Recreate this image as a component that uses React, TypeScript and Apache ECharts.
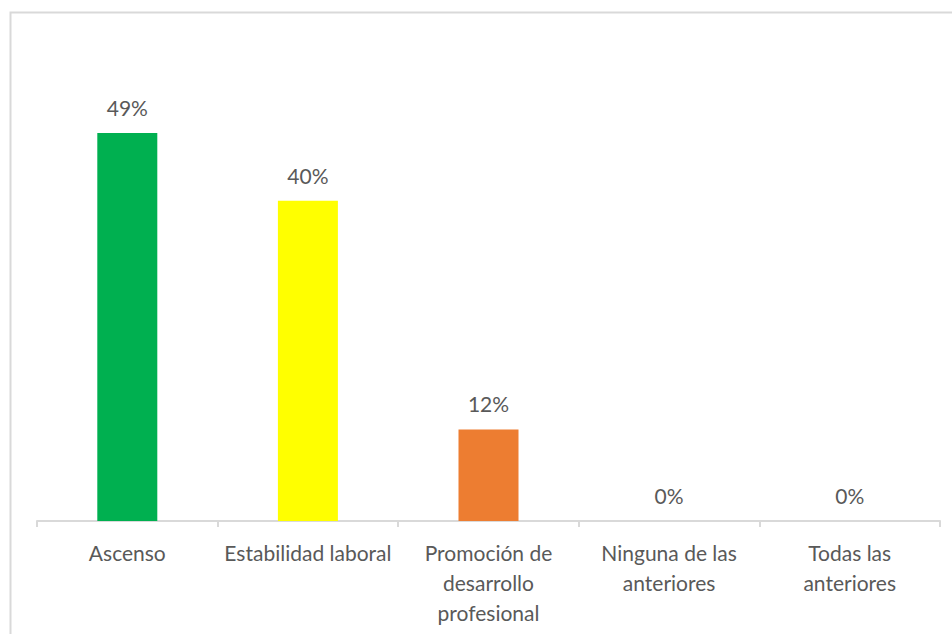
import React, { useEffect, useRef } from "react";
import * as echarts from "echarts";

const categories = [
  "Ascenso",
  "Estabilidad laboral",
  "Promoción de\ndesarrollo\nprofesional",
  "Ninguna de las\nanteriores",
  "Todas las\nanteriores",
];
const values = [48.7, 40.2, 11.5, 0, 0];
const barColors = ["#00B050", "#FFFF00", "#ED7D31", "#A5A5A5", "#FFC000"];

export default function App() {
  const ref = useRef<HTMLDivElement>(null);
  useEffect(() => {
    if (!ref.current) return;
    const chart = echarts.init(ref.current, null, { renderer: "svg" });
    const font = "Lato, 'Open Sans', sans-serif";
    chart.setOption({
      animation: false,
      backgroundColor: "#ffffff",
      graphic: [
        {
          type: "rect",
          left: 8,
          top: 10,
          shape: { x: 0, y: 0, width: 980, height: 660 },
          style: { fill: "none", stroke: "#d9d9d9", lineWidth: 2 },
          silent: true,
        },
      ],
      grid: { left: 37, right: 12, top: 43, bottom: 634 - 521, containLabel: false },
      xAxis: {
        type: "category",
        data: categories,
        axisLine: { show: true, lineStyle: { color: "#d9d9d9", width: 2 } },
        axisTick: { show: true, length: 6, lineStyle: { color: "#d9d9d9", width: 2 } },
        axisLabel: {
          color: "#595959",
          fontFamily: font,
          fontSize: 21,
          lineHeight: 30,
          margin: 16,
          interval: 0,
        },
      },
      yAxis: {
        type: "value",
        min: 0,
        max: 60,
        show: false,
        splitLine: { show: false },
      },
      series: [
        {
          type: "bar",
          barWidth: 60,
          data: values.map((v, i) => ({ value: v, itemStyle: { color: barColors[i] } })),
          label: {
            show: true,
            position: "top",
            distance: 15,
            color: "#595959",
            fontFamily: font,
            fontSize: 21,
            formatter: (p: any) => Math.round(p.value) + "%",
          },
        },
      ],
    });
    return () => chart.dispose();
  }, []);
  return (
    <div
      ref={ref}
      style={{ position: "fixed", left: 0, top: 0, width: 952, height: 634 }}
    />
  );
}
